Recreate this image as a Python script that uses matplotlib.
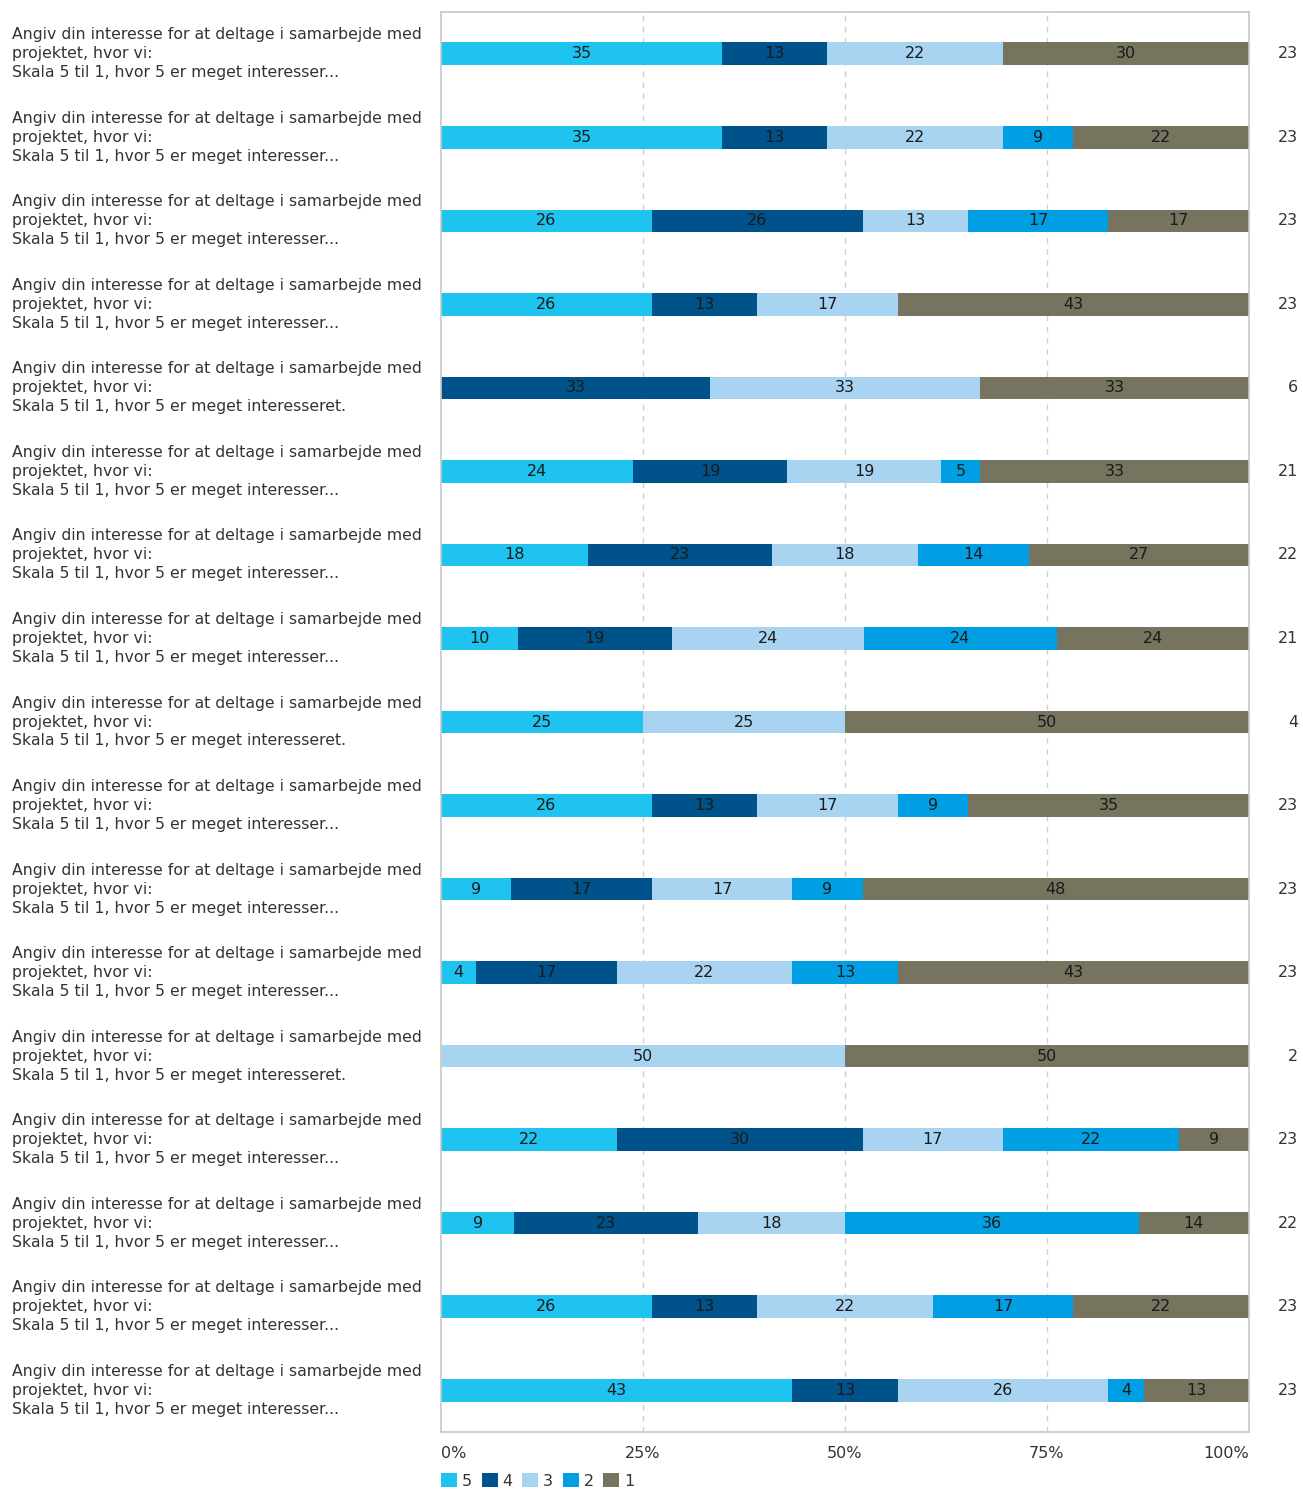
import matplotlib
matplotlib.use('Agg')
import matplotlib.pyplot as plt
from matplotlib.patches import Patch
import numpy as np

plt.rcParams['font.family'] = ['DejaVu Sans']

# answer counts per question, columns = score 5, 4, 3, 2, 1
levels = ['5', '4', '3', '2', '1']
colors = ['#1ec3f0', '#00528a', '#a8d4f2', '#009fe3', '#76735f']
short = 'Angiv din interesse for at deltage i samarbejde med\nprojektet, hvor vi:\nSkala 5 til 1, hvor 5 er meget interesser...'
full = 'Angiv din interesse for at deltage i samarbejde med\nprojektet, hvor vi:\nSkala 5 til 1, hvor 5 er meget interesseret.'
questions = [short, short, short, short, full, short, short, short, full,
             short, short, short, full, short, short, short, short]
counts = np.array([
    [8, 3, 5, 0, 7],
    [8, 3, 5, 2, 5],
    [6, 6, 3, 4, 4],
    [6, 3, 4, 0, 10],
    [0, 2, 2, 0, 2],
    [5, 4, 4, 1, 7],
    [4, 5, 4, 3, 6],
    [2, 4, 5, 5, 5],
    [1, 0, 1, 0, 2],
    [6, 3, 4, 2, 8],
    [2, 4, 4, 2, 11],
    [1, 4, 5, 3, 10],
    [0, 0, 1, 0, 1],
    [5, 7, 4, 5, 2],
    [2, 5, 4, 8, 3],
    [6, 3, 5, 4, 5],
    [10, 3, 6, 1, 3],
])
totals = counts.sum(axis=1)
shares = counts / totals[:, None] * 100

fig = plt.figure(figsize=(13.03, 14.90), dpi=100)
ax = fig.add_axes([441/1303, 1 - 1432/1490, 808/1303, 1420/1490])

y = np.arange(len(questions))
left = np.zeros(len(questions))
for j, lev in enumerate(levels):
    w = shares[:, j]
    ax.barh(y, w, left=left, height=0.27, color=colors[j], edgecolor='none')
    for i in range(len(y)):
        if counts[i, j] > 0:
            ax.text(left[i] + w[i] / 2, y[i], '%d' % round(w[i]), ha='center', va='center',
                    fontsize=11.5, color='#1a1a1a')
    left += w

ax.set_xlim(0, 100)
ax.set_ylim(len(questions) - 0.5, -0.5)
for x in [25, 50, 75]:
    ax.axvline(x, color='#d0d0d0', lw=1, ls=(0, (4, 4)), zorder=0)
for s in ax.spines.values():
    s.set_color('#c8c8c8')
    s.set_linewidth(1.2)
ax.set_yticks([])
ax.set_xticks([0, 25, 50, 75, 100])
ax.set_xticklabels(['0%', '25%', '50%', '75%', '100%'], fontsize=11.5, color='#333333')
ax.tick_params(axis='x', length=0, pad=10)
tl = ax.get_xticklabels()
tl[0].set_ha('left')
tl[-1].set_ha('right')

# question text on the left, total count on the right
for i, q in enumerate(questions):
    ax.text(-429/808*100, y[i], q, ha='left', va='center', fontsize=11.3,
            color='#333333', linespacing=1.33, clip_on=False)
    ax.text(100 + 49/808*100, y[i], str(totals[i]), ha='right', va='center',
            fontsize=11.5, color='#333333', clip_on=False)

handles = [Patch(facecolor=c, edgecolor='none') for c in colors]
fig.legend(handles, levels, loc='center left', bbox_to_anchor=(427/1303, 1 - 1481/1490),
           ncol=5, frameon=False, fontsize=11.5, handlelength=1.0, handleheight=1.0,
           handletextpad=0.3, columnspacing=0.6, labelcolor='#333333')

fig.savefig('out.png', dpi=100)
